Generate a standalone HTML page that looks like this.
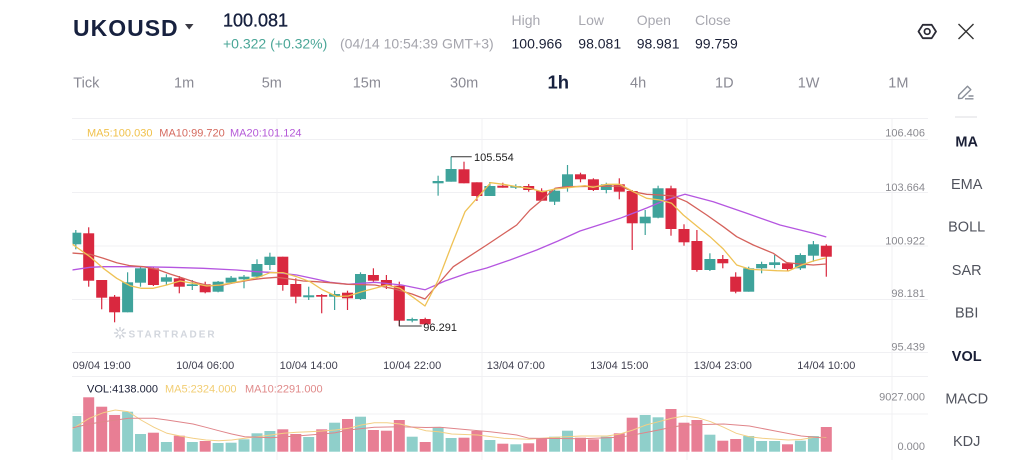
<!DOCTYPE html>
<html><head><meta charset="utf-8"><style>
html,body{margin:0;padding:0;background:#fff;width:1024px;height:471px;overflow:hidden}
svg{display:block}
text{font-family:"Liberation Sans",sans-serif}
</style></head><body>
<svg width="1024" height="471" viewBox="0 0 1024 471" xmlns="http://www.w3.org/2000/svg">
<defs><clipPath id="cp"><rect x="72.5" y="110" width="860" height="361"/></clipPath></defs>
<rect width="1024" height="471" fill="#fff"/>
<!-- header -->
<text x="73" y="36" font-size="23" font-weight="bold" fill="#17213f" letter-spacing="1">UKOUSD</text>
<polygon points="185,24 193.5,24 189.2,29.5" fill="#3a3a44"/>
<text x="223" y="26.7" font-size="18" fill="#17213f" stroke="#17213f" stroke-width="0.35">100.081</text>
<text x="223" y="48.3" font-size="14" fill="#4aa697">+0.322 (+0.32%)</text>
<text x="340" y="48.3" font-size="14" fill="#a5a5ad">(04/14 10:54:39 GMT+3)</text>
<g font-size="14" fill="#a8a8b0">
<text x="511.5" y="25">High</text><text x="578.3" y="25">Low</text><text x="636.7" y="25">Open</text><text x="695" y="25">Close</text>
</g>
<g font-size="14" fill="#1a1f36">
<text x="511.5" y="48.3">100.966</text><text x="578.3" y="48.3">98.081</text><text x="636.7" y="48.3">98.981</text><text x="695" y="48.3">99.759</text>
</g>
<polygon points="918.5,31.5 922.8,24.8 931.7,24.8 936,31.5 931.7,38.2 922.8,38.2" fill="none" stroke="#2a2a35" stroke-width="1.8" stroke-linejoin="round"/>
<circle cx="927.2" cy="31.5" r="2.8" fill="none" stroke="#2a2a35" stroke-width="1.7"/>
<path d="M958.5 24 L973.5 39 M973.5 24 L958.5 39" stroke="#333" stroke-width="1.4"/>
<!-- tabs -->
<g font-size="14.5" fill="#8a8a94">
<text x="73.3" y="87.3">Tick</text><text x="174" y="87.3">1m</text><text x="261.7" y="87.3">5m</text><text x="352.7" y="87.3">15m</text><text x="450" y="87.3">30m</text>
<text x="630" y="87.3">4h</text><text x="715" y="87.3">1D</text><text x="797.7" y="87.3">1W</text><text x="888.3" y="87.3">1M</text>
</g>
<text x="547.5" y="88.3" font-size="18.5" font-weight="bold" fill="#17213f">1h</text>
<!-- pencil -->
<g fill="none" stroke="#8a8f99" stroke-width="1.4" stroke-linejoin="round">
<path d="M958.5 98.5 L958.8 95 L967.5 86.3 L970.8 89.6 L962 98.3 Z"/>
<path d="M965 98.8 L973.5 98.8 M968.5 96 L973.5 96"/>
</g>
<line x1="955" y1="117" x2="977" y2="117" stroke="#dcdce0" stroke-width="1"/>
<!-- right menu -->
<g font-size="14.5" fill="#50535d" text-anchor="middle">
<text x="966.7" y="146.7" font-weight="bold" fill="#1a1f36">MA</text>
<text x="966.7" y="189">EMA</text>
<text x="966.7" y="231.7">BOLL</text>
<text x="966.7" y="275">SAR</text>
<text x="966.7" y="317.7">BBI</text>
<text x="966.7" y="361" font-weight="bold" fill="#1a1f36">VOL</text>
<text x="966.7" y="403.3">MACD</text>
<text x="966.7" y="446">KDJ</text>
</g>
<!-- grid -->
<g stroke="#f0f0f3" stroke-width="1">
<line x1="72" y1="118.5" x2="928" y2="118.5"/>
<line x1="72" y1="139.5" x2="928" y2="139.5"/>
<line x1="72" y1="192.5" x2="928" y2="192.5"/>
<line x1="72" y1="246" x2="928" y2="246"/>
<line x1="72" y1="299.5" x2="928" y2="299.5"/>
<line x1="72" y1="352.5" x2="928" y2="352.5"/>
<line x1="72" y1="376.5" x2="928" y2="376.5"/>
<line x1="72" y1="414" x2="928" y2="414"/>
<line x1="277" y1="118" x2="277" y2="460"/>
<line x1="482" y1="118" x2="482" y2="460"/>
<line x1="687" y1="118" x2="687" y2="460"/>
<line x1="892" y1="118" x2="892" y2="460"/>
</g>
<!-- axis labels -->
<g font-size="11" fill="#8a8a90" text-anchor="end">
<text x="925" y="136.7">106.406</text>
<text x="925" y="191">103.664</text>
<text x="925" y="244.7">100.922</text>
<text x="925" y="297">98.181</text>
<text x="925" y="350.7">95.439</text>
<text x="925" y="400.7">9027.000</text>
<text x="925" y="450">0.000</text>
</g>
<!-- legend -->
<g font-size="11">
<text x="87" y="136.5" fill="#f0c14b">MA5:100.030</text>
<text x="159.3" y="136.5" fill="#d56a5f">MA10:99.720</text>
<text x="230" y="136.5" fill="#b55ad8">MA20:101.124</text>
<text x="87" y="392.5" fill="#1a1f36">VOL:4138.000</text>
<text x="165" y="392.5" fill="#f2cd72">MA5:2324.000</text>
<text x="245" y="392.5" fill="#e08a8a">MA10:2291.000</text>
</g>
<!-- watermark -->
<g stroke="#c8ccd4" stroke-width="1.3" stroke-linecap="round">
<path d="M120 327.5 L120 338.5 M114.5 333 L125.5 333 M116.1 329.1 L123.9 336.9 M123.9 329.1 L116.1 336.9"/>
</g>
<circle cx="120" cy="333" r="2" fill="#fff"/>
<text x="128.5" y="337.3" font-size="10" font-weight="bold" fill="#d2d6dd" letter-spacing="2">STARTRADER</text>
<g clip-path="url(#cp)">
<!-- time labels -->
<g font-size="11" fill="#404050" text-anchor="middle">
<text x="101.7" y="369">09/04 19:00</text>
<text x="205.2" y="369">10/04 06:00</text>
<text x="308.7" y="369">10/04 14:00</text>
<text x="412.2" y="369">10/04 22:00</text>
<text x="515.8" y="369">13/04 07:00</text>
<text x="619.3" y="369">13/04 15:00</text>
<text x="722.8" y="369">13/04 23:00</text>
<text x="826.3" y="369">14/04 10:00</text>
</g>
<!-- volume bars -->
<g fill="#8fcfca">
<rect x="70.3" y="416" width="11" height="35.7"/><rect x="122.1" y="411.7" width="11" height="40"/><rect x="135" y="434" width="11" height="17.7"/><rect x="160.9" y="442" width="11" height="9.7"/><rect x="186.8" y="442" width="11" height="9.7"/><rect x="212.6" y="443" width="11" height="8.7"/><rect x="225.6" y="442.7" width="11" height="9"/><rect x="238.5" y="439.3" width="11" height="12.4"/><rect x="251.5" y="433.3" width="11" height="18.4"/><rect x="264.4" y="431" width="11" height="20.7"/><rect x="303.2" y="437" width="11" height="14.7"/><rect x="329.1" y="422.7" width="11" height="29"/><rect x="355" y="416.7" width="11" height="35"/><rect x="406.7" y="436.7" width="11" height="15"/><rect x="432.6" y="427.7" width="11" height="24"/><rect x="445.6" y="438" width="11" height="13.7"/><rect x="484.4" y="440" width="11" height="11.7"/><rect x="510.3" y="444.3" width="11" height="7.4"/><rect x="549.1" y="436.7" width="11" height="15"/><rect x="562" y="430.7" width="11" height="21"/><rect x="600.8" y="436.7" width="11" height="15"/><rect x="639.7" y="415" width="11" height="36.7"/><rect x="652.6" y="417.3" width="11" height="34.4"/><rect x="704.4" y="434.7" width="11" height="17"/><rect x="743.2" y="436" width="11" height="15.7"/><rect x="756.1" y="441" width="11" height="10.7"/><rect x="769.1" y="441" width="11" height="10.7"/><rect x="794.9" y="440.7" width="11" height="11"/><rect x="807.9" y="436" width="11" height="15.7"/>
</g>
<g fill="#e87e94">
<rect x="83.2" y="397.3" width="11" height="54.4"/><rect x="96.2" y="406.7" width="11" height="45"/><rect x="109.1" y="415" width="11" height="36.7"/><rect x="147.9" y="432.7" width="11" height="19"/><rect x="173.8" y="435.7" width="11" height="16"/><rect x="199.7" y="441" width="11" height="10.7"/><rect x="277.3" y="429.3" width="11" height="22.4"/><rect x="290.3" y="434" width="11" height="17.7"/><rect x="316.2" y="429.3" width="11" height="22.4"/><rect x="342" y="419" width="11" height="32.7"/><rect x="367.9" y="430" width="11" height="21.7"/><rect x="380.9" y="430.7" width="11" height="21"/><rect x="393.8" y="420" width="11" height="31.7"/><rect x="419.7" y="442" width="11" height="9.7"/><rect x="458.5" y="437.7" width="11" height="14"/><rect x="471.4" y="431" width="11" height="20.7"/><rect x="497.3" y="443.7" width="11" height="8"/><rect x="523.2" y="443.3" width="11" height="8.4"/><rect x="536.1" y="438.3" width="11" height="13.4"/><rect x="575" y="437.7" width="11" height="14"/><rect x="587.9" y="439.3" width="11" height="12.4"/><rect x="613.8" y="433.3" width="11" height="18.4"/><rect x="626.7" y="417.7" width="11" height="34"/><rect x="665.5" y="409" width="11" height="42.7"/><rect x="678.5" y="422.7" width="11" height="29"/><rect x="691.4" y="420" width="11" height="31.7"/><rect x="717.3" y="440.7" width="11" height="11"/><rect x="730.2" y="439" width="11" height="12.7"/><rect x="782" y="444.3" width="11" height="7.4"/><rect x="820.8" y="427" width="11" height="24.7"/>
</g>
<!-- volume MAs -->
<polyline fill="none" stroke="#f3cf85" stroke-width="1" points="72,429 89.3,418.3 103.3,412.7 115.3,410 128.3,411.7 141,420 154,427.3 167,433.3 180,436 193,438.3 206,440 218.7,440.7 231.7,440 244.7,438.3 257.7,436.7 270.7,435 283.7,433.3 296.7,432.3 309.3,431.7 322.3,431 335.3,430 348.3,428.3 361.3,425 374.3,422.7 387,422.7 400,424 413,427.3 426,430.7 438.7,431.7 451.7,434 477.7,435 503.7,438.3 529.3,439.3 555.3,437.3 581.3,436 607,436 620,434 633,430 646,425 658.7,421.7 671.7,418.3 684.7,416 697.7,417.7 710.7,421.7 723.7,427.3 736.3,433.3 749.3,436.7 762.3,438.3 788.3,440 801,439.5 814.3,437.3 826.3,437.5"/>
<polyline fill="none" stroke="#e0858a" stroke-width="1" points="72,428 89.3,424 103.3,421.7 128.3,418.3 154,418.3 167,420 193,424 206,427.3 218.7,430.7 231.7,434 244.7,436.7 270.7,437.7 296.7,436 322.3,434 335.3,432.7 348.3,430 374.3,427.3 400,426.7 426,427.5 440,427.3 490,431.7 516.7,435 529.3,438.3 581.3,438.7 620,437.3 633,435 658.7,430 671.7,427.3 684.7,425 723.7,424 749.3,426 775.3,431 801.3,436 827,438.3"/>
<!-- candles green -->
<g fill="#3fa39b">
<rect x="75.2" y="230" width="1.2" height="19.3"/><rect x="70.3" y="232.7" width="11" height="11.6"/>
<rect x="127" y="272.3" width="1.2" height="40"/><rect x="122.1" y="282.3" width="11" height="30"/>
<rect x="139.9" y="266.7" width="1.2" height="20"/><rect x="135" y="268.3" width="11" height="14.4"/>
<rect x="165.8" y="274.3" width="1.2" height="10.7"/><rect x="160.9" y="277.3" width="11" height="4.4"/>
<rect x="191.7" y="280" width="1.2" height="10"/><rect x="186.8" y="284.3" width="11" height="1.7"/>
<rect x="217.5" y="281" width="1.2" height="11.3"/><rect x="212.6" y="281.7" width="11" height="10"/>
<rect x="230.5" y="276" width="1.2" height="8"/><rect x="225.6" y="277.7" width="11" height="5"/>
<rect x="243.4" y="275" width="1.2" height="13.3"/><rect x="238.5" y="276.7" width="11" height="2.6"/>
<rect x="256.4" y="259.3" width="1.2" height="19"/><rect x="251.5" y="264" width="11" height="12.7"/>
<rect x="269.3" y="252.7" width="1.2" height="17.3"/><rect x="264.4" y="256.7" width="11" height="8.3"/>
<rect x="308.1" y="286.7" width="1.2" height="13.3"/><rect x="303.2" y="295.3" width="11" height="2"/>
<rect x="334" y="290.7" width="1.2" height="19.3"/><rect x="329.1" y="294" width="11" height="2.7"/>
<rect x="359.9" y="272.3" width="1.2" height="27.7"/><rect x="355" y="274" width="11" height="25"/>
<rect x="411.6" y="317.7" width="1.2" height="4.6"/><rect x="406.7" y="319" width="11" height="1.7"/>
<rect x="437.5" y="175.7" width="1.2" height="20"/><rect x="432.6" y="181" width="11" height="2.3"/>
<rect x="450.5" y="156.7" width="1.2" height="25"/><rect x="445.6" y="169" width="11" height="12.7"/>
<rect x="489.3" y="182" width="1.2" height="14"/><rect x="484.4" y="186" width="11" height="10"/>
<rect x="515.2" y="184.3" width="1.2" height="4.7"/><rect x="510.3" y="186" width="11" height="1.7"/>
<rect x="554" y="188.3" width="1.2" height="16.7"/><rect x="549.1" y="190.7" width="11" height="11"/>
<rect x="566.9" y="165" width="1.2" height="26.7"/><rect x="562" y="174.3" width="11" height="13"/>
<rect x="605.7" y="182.7" width="1.2" height="10.6"/><rect x="600.8" y="184.3" width="11" height="5.7"/>
<rect x="644.6" y="210" width="1.2" height="25"/><rect x="639.7" y="216.7" width="11" height="6.6"/>
<rect x="657.5" y="185.7" width="1.2" height="32.6"/><rect x="652.6" y="188.3" width="11" height="29.4"/>
<rect x="709.3" y="253.3" width="1.2" height="17.7"/><rect x="704.4" y="259" width="11" height="11"/>
<rect x="748.1" y="266.7" width="1.2" height="25"/><rect x="743.2" y="268.3" width="11" height="23.4"/>
<rect x="761" y="261.7" width="1.2" height="11.6"/><rect x="756.1" y="264" width="11" height="4.3"/>
<rect x="774" y="255" width="1.2" height="13.3"/><rect x="769.1" y="262.3" width="11" height="2.7"/>
<rect x="799.8" y="253.3" width="1.2" height="16.7"/><rect x="794.9" y="255" width="11" height="13.3"/>
<rect x="812.8" y="241" width="1.2" height="20.7"/><rect x="807.9" y="244.3" width="11" height="11.4"/>
</g>
<!-- candles red -->
<g fill="#d9283f">
<rect x="88.1" y="227.3" width="1.2" height="59.4"/><rect x="83.2" y="233.3" width="11" height="47.4"/>
<rect x="101.1" y="280" width="1.2" height="29.3"/><rect x="96.2" y="280" width="11" height="17.7"/>
<rect x="114" y="295" width="1.2" height="27.3"/><rect x="109.1" y="296.7" width="11" height="15.6"/>
<rect x="152.8" y="267" width="1.2" height="19"/><rect x="147.9" y="268.3" width="11" height="16.7"/>
<rect x="178.7" y="276" width="1.2" height="17.3"/><rect x="173.8" y="278.3" width="11" height="8.4"/>
<rect x="204.6" y="281.7" width="1.2" height="11.6"/><rect x="199.7" y="284.3" width="11" height="8"/>
<rect x="282.2" y="256.7" width="1.2" height="34"/><rect x="277.3" y="256.7" width="11" height="28.3"/>
<rect x="295.2" y="278.3" width="1.2" height="25"/><rect x="290.3" y="284" width="11" height="12.7"/>
<rect x="321.1" y="294" width="1.2" height="19.3"/><rect x="316.2" y="295" width="11" height="1.7"/>
<rect x="346.9" y="290.7" width="1.2" height="19.3"/><rect x="342" y="292.7" width="11" height="5.6"/>
<rect x="372.8" y="268.3" width="1.2" height="13.4"/><rect x="367.9" y="275" width="11" height="5.7"/>
<rect x="385.8" y="275" width="1.2" height="14"/><rect x="380.9" y="280" width="11" height="5.7"/>
<rect x="398.7" y="281.7" width="1.2" height="44.3"/><rect x="393.8" y="285.7" width="11" height="35"/>
<rect x="424.6" y="317.7" width="1.2" height="7.3"/><rect x="419.7" y="319" width="11" height="5.3"/>
<rect x="463.4" y="161.7" width="1.2" height="21.6"/><rect x="458.5" y="169.3" width="11" height="14"/>
<rect x="476.3" y="182.3" width="1.2" height="18.7"/><rect x="471.4" y="182.3" width="11" height="13.7"/>
<rect x="502.2" y="182.7" width="1.2" height="5"/><rect x="497.3" y="185.7" width="11" height="2"/>
<rect x="528.1" y="184" width="1.2" height="7.7"/><rect x="523.2" y="186" width="11" height="4"/>
<rect x="541" y="188.3" width="1.2" height="12.7"/><rect x="536.1" y="190.7" width="11" height="10"/>
<rect x="579.9" y="172.7" width="1.2" height="9.6"/><rect x="575" y="174.3" width="11" height="5"/>
<rect x="592.8" y="178.3" width="1.2" height="12.7"/><rect x="587.9" y="179.3" width="11" height="10.7"/>
<rect x="618.7" y="178.3" width="1.2" height="21"/><rect x="613.8" y="184.3" width="11" height="7.4"/>
<rect x="631.6" y="190" width="1.2" height="60"/><rect x="626.7" y="191" width="11" height="32.3"/>
<rect x="670.4" y="185.7" width="1.2" height="50"/><rect x="665.5" y="188.3" width="11" height="40.7"/>
<rect x="683.4" y="224.3" width="1.2" height="21.4"/><rect x="678.5" y="229" width="11" height="13.3"/>
<rect x="696.3" y="230" width="1.2" height="41.7"/><rect x="691.4" y="241" width="11" height="29"/>
<rect x="722.2" y="255" width="1.2" height="13.3"/><rect x="717.3" y="259" width="11" height="4.3"/>
<rect x="735.1" y="272.3" width="1.2" height="21"/><rect x="730.2" y="276.7" width="11" height="15"/>
<rect x="786.9" y="262.3" width="1.2" height="8.7"/><rect x="782" y="263.3" width="11" height="5.7"/>
<rect x="825.7" y="244.3" width="1.2" height="32.4"/><rect x="820.8" y="245.7" width="11" height="11"/>
</g>
<!-- MA lines -->
<polyline fill="none" stroke="#b556e0" stroke-width="1.3" stroke-linejoin="round" points="72,270 90,267.3 103.3,266.7 136.7,266.7 170,267.3 203.3,268.3 236.7,270 256.7,271.7 276.7,272.7 296.7,275 316.7,279.3 330,282.3 348.3,284.3 375,282.3 401.7,285 425,289.8 445,281 468,273 486.7,268 510,260 536.7,250 558,241 580,231 620,218.3 646.7,208 663.3,201 676.7,196.7 685,194.3 713.3,201.7 746.7,213.3 780,225 813.3,233.3 826.3,237"/>
<polyline fill="none" stroke="#d5625c" stroke-width="1.3" stroke-linejoin="round" points="72,253 90,254.3 103.3,258.3 116.7,262.7 130,265.7 143.3,266.7 156.7,269.3 170,274 183.3,278.3 196.7,282.7 210,285.7 223.3,285 236.7,282.3 250,280 263.3,278.3 276.7,277.3 290,279 303.3,281 316.7,281.7 330,282.7 348.3,284.3 375,285 391.7,288.3 412,294 425,299 453.3,266.7 486.7,245 516.7,225 530,210 543,199 555,188.3 566.7,186.7 620,186 633.3,191.7 646.7,194.3 660,195 673.3,196 686.7,201.7 706.7,215 723.3,226.7 736.7,236.7 753.3,245 773.3,253.3 786.7,262.7 800,264 813.3,265 826.3,264"/>
<polyline fill="none" stroke="#efc255" stroke-width="1.3" stroke-linejoin="round" points="72,244 90,256.7 103.3,268.3 116.7,278.3 130,285.7 141,288.3 153.3,288.3 166.7,285 180,281 193.3,283.3 206.7,286 220,285 233.3,282.7 246.7,280 260,276.7 270,272.7 283.3,272.7 296.7,276.7 310,281.7 322,289.5 336.7,296.5 348.3,296 361.7,291.7 375,288.3 386.7,285 400,288.3 412.3,296.7 425,306 438.3,280 451.7,245 465,211.7 490.7,182.7 503.3,184.3 516.7,186.7 529.3,188.3 542.3,191.7 555,189 568.3,187.7 585,185.7 593.3,187.3 606.7,184.3 620,184.3 633.3,191.7 646.7,198.3 660,200 671.7,203.3 683.3,215 696.7,226 710,236.7 723.3,249 736.7,265 750,269.3 763.3,270 776.7,270.7 788.3,271 801.7,265 813.3,261 826.3,257.7"/>
<!-- markers -->
<path d="M451.1 156.7 L471.7 156.7" stroke="#333" stroke-width="1"/>
<text x="474" y="160.8" font-size="11" fill="#222">105.554</text>
<path d="M399.3 320 L399.3 326 L421.7 326" fill="none" stroke="#333" stroke-width="1"/>
<text x="423.3" y="330.8" font-size="11" fill="#222">96.291</text>
</g>
</svg>
</body></html>
